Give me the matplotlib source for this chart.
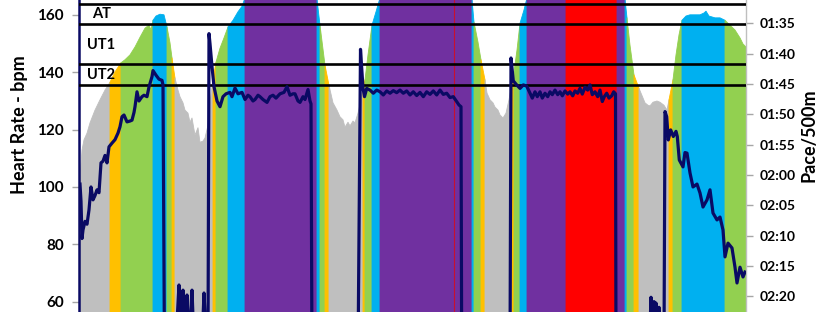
import matplotlib
matplotlib.use("Agg")
import matplotlib.pyplot as plt
import numpy as np

plt.rcParams['font.family'] = ['Lato', 'DejaVu Sans']

# ---------------- data ----------------
# pace profile: time sample and pace in seconds per 500 m
pace_t = [0, 3, 5, 8, 11, 16, 21, 26, 31, 36, 42, 46, 51, 56, 61, 66, 70, 72, 74, 77, 81, 85, 88,
          91, 93, 96, 99, 101, 104, 106, 109, 111, 113, 116, 119, 121, 124, 126, 129, 131, 134,
          137, 141, 145, 149, 154, 159, 163, 166, 171, 236, 238, 241, 246, 250, 254, 258, 261,
          264, 266, 269, 271, 274, 276, 279, 282, 284, 286, 289, 293, 297, 301, 306, 391, 393,
          395, 399, 402, 406, 408, 411, 414, 416, 419, 421, 424, 427, 430, 433, 435, 438, 441,
          445, 448, 451, 487, 511, 538, 544, 546, 548, 551, 555, 560, 562, 566, 569, 571, 574,
          578, 581, 585, 588, 590, 594, 597, 600, 603, 607, 611, 616, 621, 625, 627, 630, 636,
          641, 646, 651, 656, 661, 664, 667]
pace_s = [122.5, 115.9, 114.2, 113.1, 111.4, 109.3, 107.6, 106.0, 104.7, 103.0, 101.5, 101.0,
          100.2, 98.9, 97.3, 95.8, 95.3, 96.1, 94.5, 93.8, 93.5, 93.6, 95.6,
          98.2, 100.7, 104.0, 106.0, 107.1, 108.1, 109.3, 109.8, 111.3, 110.6, 113.4, 112.2,
          114.6, 114.4, 113.9, 111.8, 108.0, 104.3,
          101.4, 99.1, 97.4, 95.6, 94.5, 93.1, 92.2, 90.8, 89.0, 89.0, 91.0, 95.3, 101.9, 105.2,
          108.1, 109.3, 110.4, 110.9, 112.1, 111.3, 111.9, 111.1, 111.4, 109.8, 107.6, 105.7,
          104.3, 100.2, 95.3, 93.1, 90.8, 89.0, 89.0, 91.0,
          94.8, 98.1, 101.0, 104.3, 106.5, 107.6, 108.1, 108.8, 109.3, 110.1, 110.6, 109.8,
          107.6, 104.7, 103.0, 99.4, 95.0,
          92.8, 90.8, 89.0, 89.0, 88.0, 89.0, 89.0, 91.0, 94.1, 98.6, 103.5, 105.7, 106.5, 108.1,
          108.5, 108.6, 108.0,
          107.8, 108.0, 108.5, 109.3, 107.6, 104.3, 100.2, 96.9, 94.5, 93.8, 93.6, 93.6, 93.6,
          93.3, 93.0, 93.8, 94.1,
          94.1, 94.5, 95.3, 96.1, 97.4, 98.4, 98.9]

# training-zone segments of the pace area
zone_start = [0, 31, 42, 74, 88, 93, 96, 134, 137, 149, 166, 238, 241, 246, 250, 284, 286, 293,
              301, 393, 395, 402, 406, 433, 435, 441, 448, 487, 538, 546, 548, 555, 560, 590,
              594, 603, 646]
zone_end = [31, 42, 74, 88, 93, 96, 134, 137, 149, 166, 238, 241, 246, 250, 284, 286, 293, 301,
            393, 395, 402, 406, 433, 435, 441, 448, 487, 538, 546, 548, 555, 560, 590, 594,
            603, 646, 667]
zone_name = ['Rest', 'UT2', 'UT1', 'AT', 'UT1', 'UT2', 'Rest', 'UT2', 'UT1', 'AT', 'TR', 'AT',
             'UT1', 'UT2', 'Rest', 'UT2', 'UT1', 'AT', 'TR', 'AT', 'UT1', 'UT2', 'Rest', 'UT2',
             'UT1', 'AT', 'TR', 'AN', 'TR', 'AT', 'UT1', 'UT2', 'Rest', 'UT2', 'UT1', 'AT', 'UT1']
zone_colors = {'Rest': '#BFBFBF', 'UT2': '#FFC000', 'UT1': '#92D050', 'AT': '#00B0F0',
               'TR': '#7030A0', 'AN': '#FF0000'}

# heart rate
hr_t = [1, 2, 3, 4, 6, 8, 10, 12, 14, 16, 18, 20, 22, 24, 26, 28, 30, 33, 36, 39, 41, 43, 45,
        48, 51, 53, 55, 56, 58, 60, 63, 65, 68, 70, 73, 74, 77, 80, 83, 84, 85.5,
        96, 100, 102, 104, 106, 108, 110, 113, 115, 123, 125, 127, 129, 130,
        131, 133, 135, 138, 141, 144, 147, 151, 153, 156, 159, 163, 166, 169, 171, 174, 176,
        179, 181, 184, 188, 191, 194, 197, 201, 205, 208, 211, 214, 216, 219, 221, 224, 226,
        229, 231, 232, 233,
        279, 281.5, 283, 284, 285.5, 287.7, 291, 294.3, 297.7, 301, 304.3, 307.7, 311, 314.3,
        317.7, 321, 324.3, 327.7, 331, 334.3, 337.7, 341, 344.3, 347.7, 351, 354.3, 357.7,
        361, 364.3, 367.7, 371, 374.3, 377.7, 380, 382, 382.7,
        431, 432, 434.3, 437.7, 441, 444.3, 447.7, 451, 453.3, 456, 458.3, 461, 463.3, 466,
        468.7, 471, 473.3, 476, 478.7, 481, 483.3, 486, 488.7, 491, 493.7, 496, 498.7, 501,
        503.3, 506, 508.7, 511, 513.3, 516, 518.7, 521, 523.3, 525.3, 527.7, 530, 532.7,
        534.7, 536.5, 537,
        570, 572, 573, 575, 576, 577, 578, 580, 581, 585, 586,
        587.7, 589.3, 591.7, 594.3, 597, 598.3, 600.3, 604, 606, 608, 611, 614, 618, 621, 624,
        628, 631, 634, 638, 641, 644, 646, 649, 653, 656, 658, 661, 664, 666]
hr_bpm = [101, 95, 82, 85, 88, 87, 92, 100, 95.5, 97, 99, 98, 108.4, 109, 111, 108.4, 114,
          115.3, 116.5, 118.8, 121, 124.5, 125.1, 122.7, 123, 123.3, 126, 128, 133.2, 130,
          131.5, 132, 131.5, 134.9, 138.5, 140.6, 139, 137.6, 137.2, 135.6, 40,
          40, 65.8, 50, 64, 45, 62.3, 45, 64, 45, 45, 63, 48, 45, 153.5,
          150, 142, 135, 130, 128, 131.5, 132.5, 133, 131.5, 134.5, 132.5, 133, 130.5, 132,
          131.5, 130, 130.5, 132, 131.5, 130.5, 129.5, 131.5, 132, 131, 132.5, 133, 135, 132,
          132.5, 132.5, 130, 129.5, 131.5, 130.5, 134, 130, 129, 40,
          40, 148, 140, 134.5, 131.5, 134.4, 133.8, 132.7, 133.8, 133.2, 132.1, 133.5, 132.7,
          133.6, 132.9, 133.8, 132.7, 133.5, 132.1, 133.2, 131.9, 133, 131.5, 133.2, 132.3,
          133.5, 132.1, 133.8, 132.3, 132.7, 131.2, 131.5, 129.8, 128.6, 128, 40,
          40, 145, 137, 135.6, 134.4, 135.6, 135.2, 132.7, 131, 133.2, 131.5, 133.2, 131,
          132.7, 131.5, 133.2, 132.2, 133.8, 132.2, 133.2, 131.8, 133.5, 132.4, 133.2, 131.8,
          133.5, 132.7, 134.4, 132.4, 134.8, 133.8, 135.6, 132.2, 133.2, 131.5, 133.8, 129.8,
          131.5, 132.7, 131, 131.8, 133.2, 132.5, 40,
          40, 61.5, 46, 60, 48, 59.5, 45, 58, 45, 45, 126.3,
          124.5, 116.4, 119.9, 117.6, 119.4, 117.6, 109.4, 107, 112, 111.8, 104.9, 100, 101,
          97.9, 93, 95.5, 99, 90.9, 88.5, 89.5, 85, 75.6, 80.4, 78.7, 72, 66.5, 72, 68.6, 70.3]

# heart-rate zone boundaries and labels
zone_lines_hr = [163.8, 156.9, 142.9, 135.6]
zone_label_text = ['AT', 'UT1', 'UT2']
zone_label_hr = [160.3, 149.5, 139.1]
zone_label_t = [13, 8, 8]

marker_t = 375.3

hr_ticks = [60, 80, 100, 120, 140, 160]
pace_ticks = [95, 100, 105, 110, 115, 120, 125, 130, 135, 140]
pace_tick_labels = ['01:35', '01:40', '01:45', '01:50', '01:55', '02:00', '02:05', '02:10',
                    '02:15', '02:20']

# ---------------- plot ----------------
W, H = 820, 312
fig = plt.figure(figsize=(W / 100, H / 100), dpi=100)
left_px, right_px = 79, 746
ax = fig.add_axes([left_px / W, 0, (right_px - left_px) / W, 1])
ax2 = ax.twinx()

pt = np.array(pace_t, dtype=float)
ps = np.array(pace_s, dtype=float)
for s, e, z in zip(zone_start, zone_end, zone_name):
    m = (pt >= s) & (pt <= e)
    c = zone_colors[z]
    ax2.fill_between(pt[m], ps[m], 160, color=c, lw=0.6, edgecolor=c, zorder=1)

ax2.set_ylim(142.56, 91.16)
ax2.set_xlim(0, right_px - left_px)
ax2.set_yticks(pace_ticks)
ax2.set_yticklabels(pace_tick_labels)

ax.set_zorder(ax2.get_zorder() + 1)
ax.patch.set_visible(False)

for v in zone_lines_hr:
    ax.axhline(v, color='black', lw=1.9, zorder=3)
ax.axvline(marker_t, color='#C8102E', lw=0.8, zorder=2)
for txt, hv, tv in zip(zone_label_text, zone_label_hr, zone_label_t):
    ax.text(tv, hv, txt, fontsize=10.5, fontweight='bold', ha='left', va='center', zorder=4)

ax.plot(hr_t, hr_bpm, color='#0A0A64', lw=2.3, zorder=5, solid_joinstyle='round')

ax.set_ylim(56.37, 165.23)
ax.set_xlim(0, right_px - left_px)
ax.set_yticks(hr_ticks)
ax.set_xticks([])
ax2.set_xticks([])

for a in (ax, ax2):
    for sp in ('top', 'bottom'):
        a.spines[sp].set_visible(False)
ax.spines['right'].set_visible(False)
ax2.spines['left'].set_visible(False)
ax.spines['left'].set_color('#0A0A64')
ax.spines['left'].set_linewidth(1.8)
ax2.spines['right'].set_color('#BFBFBF')
ax2.spines['right'].set_linewidth(1.0)

ax.tick_params(axis='y', direction='out', length=5, width=1, color='#A6A6A6', pad=6,
               labelsize=11)
ax2.tick_params(axis='y', direction='out', length=5, width=1, color='#A6A6A6', pad=5,
                labelsize=10)
for lab in ax.get_yticklabels() + ax2.get_yticklabels():
    lab.set_fontweight('bold')

fig.text(20 / W, 1 - 125 / H, 'Heart Rate - bpm', rotation=90, fontsize=13, fontweight='bold',
         ha='center', va='center')
fig.text(809 / W, 1 - 135 / H, 'Pace/500m', rotation=90, fontsize=13, fontweight='bold',
         ha='center', va='center')

fig.savefig('out.png', dpi=100)
